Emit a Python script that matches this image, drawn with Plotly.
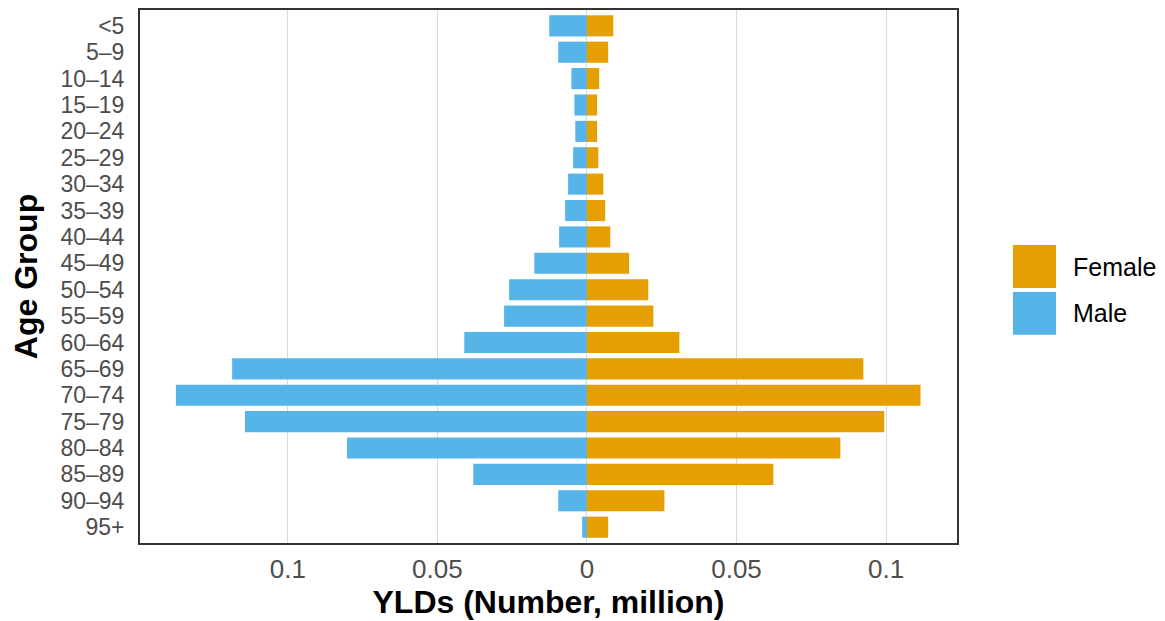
import plotly.graph_objects as go

age_groups = ["<5", "5–9", "10–14", "15–19", "20–24", "25–29", "30–34", "35–39",
              "40–44", "45–49", "50–54", "55–59", "60–64", "65–69", "70–74",
              "75–79", "80–84", "85–89", "90–94", "95+"]
male = [0.0126, 0.0096, 0.0052, 0.0042, 0.0039, 0.0046, 0.0063, 0.0073, 0.0093,
        0.0176, 0.0260, 0.0277, 0.0410, 0.1186, 0.1374, 0.1143, 0.0802, 0.0380,
        0.0096, 0.0016]
female = [0.0088, 0.0071, 0.0041, 0.0034, 0.0034, 0.0038, 0.0055, 0.0061, 0.0078,
          0.0141, 0.0205, 0.0222, 0.0309, 0.0924, 0.1115, 0.0994, 0.0847, 0.0623,
          0.0259, 0.0071]
tick_vals = [-0.1, -0.05, 0, 0.05, 0.1]
tick_text = ["0.1", "0.05", "0", "0.05", "0.1"]

MALE_C = "#56B4E9"
FEMALE_C = "#E69F00"
FONT = "Liberation Sans, Arial, sans-serif"

fig = go.Figure()
fig.add_trace(go.Bar(y=age_groups, x=[-v for v in male], orientation="h",
                     marker=dict(color=MALE_C, line=dict(width=0)), name="Male",
                     showlegend=False))
fig.add_trace(go.Bar(y=age_groups, x=female, orientation="h",
                     marker=dict(color=FEMALE_C, line=dict(width=0)), name="Female",
                     showlegend=False))

fig.update_layout(
    width=1157, height=613,
    margin=dict(l=132, r=208, t=0, b=78),
    paper_bgcolor="white", plot_bgcolor="white",
    barmode="relative", bargap=0.2,
    font=dict(family=FONT, size=26, color="#4d4d4d"),
    xaxis=dict(range=[-0.1494, 0.1237], tickmode="array", tickvals=tick_vals,
               ticktext=tick_text,
               showgrid=True, gridcolor="#d9d9d9", gridwidth=1, zeroline=True,
               zerolinecolor="#d9d9d9", zerolinewidth=1,
               showline=True, linecolor="#333333", linewidth=2, mirror=True,
               ticks="", ticklabelstandoff=2,
               tickfont=dict(family=FONT, size=26, color="#4d4d4d"),
               title=dict(text="<b>YLDs (Number, million)</b>",
                          font=dict(family=FONT, size=32, color="black"), standoff=0)),
    yaxis=dict(type="category", categoryorder="array", categoryarray=age_groups,
               tickmode="array", tickvals=age_groups, ticktext=age_groups,
               range=[19.6, -0.6], showgrid=False,
               showline=True, linecolor="#333333", linewidth=2, mirror=True,
               ticks="", ticklabelstandoff=9,
               tickfont=dict(family=FONT, size=23, color="#4d4d4d"),
               title=dict(text="<b>Age Group</b>",
                          font=dict(family=FONT, size=32, color="black"), standoff=14)),
)

# custom legend (ggplot-like large keys)
legend_items = [("Female", FEMALE_C), ("Male", MALE_C)]
for i, (lab, col) in enumerate(legend_items):
    y0 = 1 - (244 - 8 + i * 47) / 535
    y1 = y0 - 43 / 535
    fig.add_shape(type="rect", xref="paper", yref="paper",
                  x0=(1013 - 140) / 817, x1=(1056 - 140) / 817, y0=y1, y1=y0,
                  fillcolor=col, line=dict(width=0))
    fig.add_annotation(xref="paper", yref="paper", x=(1071 - 140) / 817,
                       y=(y0 + y1) / 2, text=lab, showarrow=False, xanchor="left",
                       yanchor="middle", font=dict(family=FONT, size=25, color="black"))

fig.write_html("out.html")
